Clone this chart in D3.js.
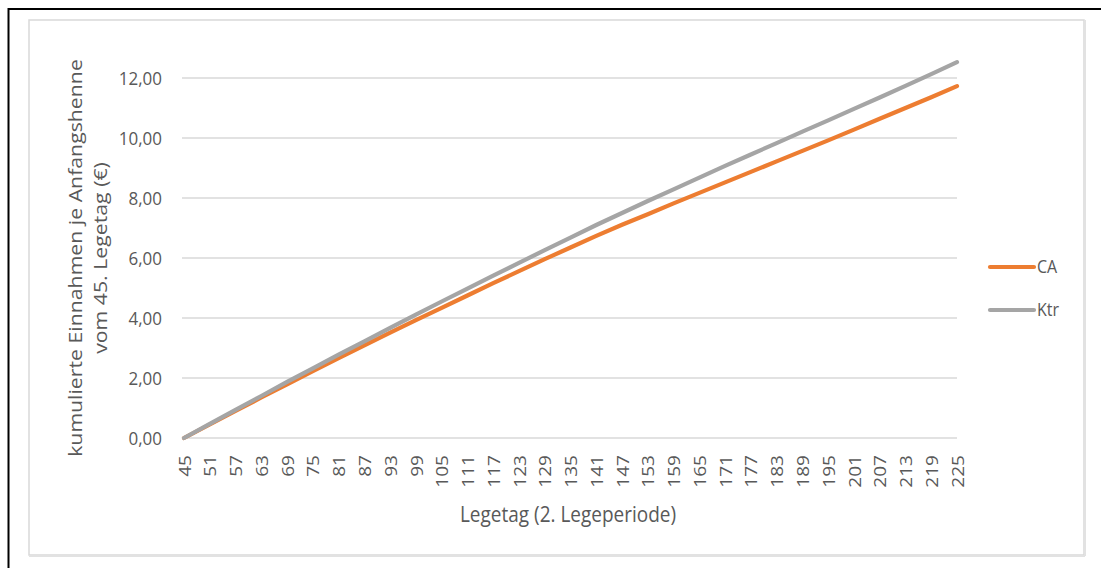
<!DOCTYPE html>
<html><head><meta charset="utf-8">
<script src="https://cdn.jsdelivr.net/npm/d3@7"></script>
<style>
html,body{margin:0;padding:0;background:#fff;}
svg{display:block;font-family:"Open Sans",sans-serif;}
</style></head>
<body>
<svg id="c" width="1101" height="568"></svg>
<script>
// Data (values read every 6th Legetag)
const days = [45,51,57,63,69,75,81,87,93,99,105,111,117,123,129,135,141,147,153,159,165,171,177,183,189,195,201,207,213,219,225];
const caValues = [0,0.45,0.90,1.35,1.79,2.23,2.66,3.09,3.51,3.93,4.34,4.75,5.16,5.56,5.96,6.35,6.74,7.11,7.46,7.82,8.17,8.52,8.87,9.22,9.57,9.92,10.28,10.64,11.00,11.36,11.73];
const ktrValues = [0,0.47,0.94,1.40,1.87,2.32,2.78,3.22,3.67,4.11,4.55,4.98,5.41,5.84,6.26,6.68,7.10,7.50,7.90,8.29,8.68,9.07,9.45,9.83,10.21,10.59,10.97,11.35,11.74,12.13,12.53];
const seriesNames = ["CA","Ktr"];
const seriesColors = ["#ED7D31","#A5A5A5"];
const yTicks = [0,2,4,6,8,10,12];
const xTickLabels = days;
const categories = d3.range(45,226);
const yTitle = ["kumulierte Einnahmen je Anfangshenne","vom 45. Legetag (€)"];
const xTitle = "Legetag (2. Legeperiode)";

const TXT = "#595959";
const VS = 1.12; // vertical stretch of text in the reference

const svg = d3.select("#c");
// outer black frame
svg.append("rect").attr("x",8.5).attr("y",9).attr("width",1110).attr("height",580)
  .attr("fill","none").attr("stroke","#000").attr("stroke-width",2);
// inner chart frame
svg.append("rect").attr("x",29).attr("y",20).attr("width",1055).attr("height",535)
  .attr("fill","#fff").attr("stroke","#d9d9d9").attr("stroke-width",1.5);
svg.append("line").attr("x1",29).attr("x2",1085).attr("y1",556).attr("y2",556).attr("stroke","#e2e2e2").attr("stroke-width",2);
svg.append("line").attr("x1",1085).attr("x2",1085).attr("y1",20).attr("y2",556).attr("stroke","#e2e2e2").attr("stroke-width",2);

const x = d3.scalePoint().domain(categories).range([184,957]);
const y = d3.scaleLinear().domain([0,12]).range([438,78]);

// gridlines
svg.append("g").selectAll("line").data(yTicks).join("line")
  .attr("x1",182).attr("x2",957).attr("y1",d=>y(d)).attr("y2",d=>y(d))
  .attr("stroke","#d9d9d9").attr("stroke-width",1.3);

// y axis labels
const yAxis = d3.axisLeft(y).tickValues(yTicks).tickSize(0).tickPadding(0)
  .tickFormat(d=>d3.format(".2f")(d).replace(".",","));
const gy = svg.append("g").attr("transform","translate(162,0)").call(yAxis);
gy.select(".domain").remove();
gy.selectAll("text").attr("fill",TXT).style("font-size","17px").style("font-family","Open Sans")
  .attr("x",0).attr("dy","0.36em").attr("transform",`scale(1,${VS})`)
  .attr("y",function(){return 0;});
gy.selectAll(".tick").each(function(d){
  d3.select(this).attr("transform",null);
  d3.select(this).select("text").attr("transform",`translate(0,${y(d)}) scale(1,${VS})`);
});

// x axis labels
const xAxis = d3.axisBottom(x).tickValues(xTickLabels).tickSize(0).tickPadding(0);
const gx = svg.append("g").attr("transform","translate(0,455)").call(xAxis);
gx.select(".domain").remove();
gx.selectAll("text").attr("fill",TXT).style("font-size","17px").style("font-family","Open Sans")
  .attr("text-anchor","end").attr("transform",`rotate(-90) scale(${VS},1)`).attr("x",0).attr("y",0).attr("dy","0.36em");

// lines
const line = d3.line().x((d,i)=>x(days[i])).y(d=>y(d));
[caValues,ktrValues].forEach((vals,i)=>{
  svg.append("path").datum(vals).attr("d",line).attr("fill","none")
    .attr("stroke",seriesColors[i]).attr("stroke-width",4.2).attr("stroke-linecap","round").attr("stroke-linejoin","round");
});

// axis titles
const yt = svg.append("text").attr("transform",`translate(88,258) rotate(-90) scale(${VS},1)`)
  .attr("text-anchor","middle").attr("fill",TXT).style("font-size","19px");
yTitle.forEach((t,i)=>yt.append("tspan").attr("x",0).attr("dy",i===0?"-0.3em":"1.32em").text(t));
svg.append("text").attr("transform",`translate(568,522) scale(1,${VS})`).attr("text-anchor","middle").attr("fill",TXT)
  .style("font-size","19px").text(xTitle);

// legend
const lg = svg.append("g");
seriesNames.forEach((n,i)=>{
  const ly = 267 + i*43;
  lg.append("line").attr("x1",990).attr("x2",1034).attr("y1",ly).attr("y2",ly)
    .attr("stroke",seriesColors[i]).attr("stroke-width",4.2).attr("stroke-linecap","round");
  lg.append("text").attr("transform",`translate(1037,${ly}) scale(1,${VS})`).attr("dy","0.36em").attr("fill",TXT)
    .style("font-size","16px").text(n);
});
</script>
</body></html>
